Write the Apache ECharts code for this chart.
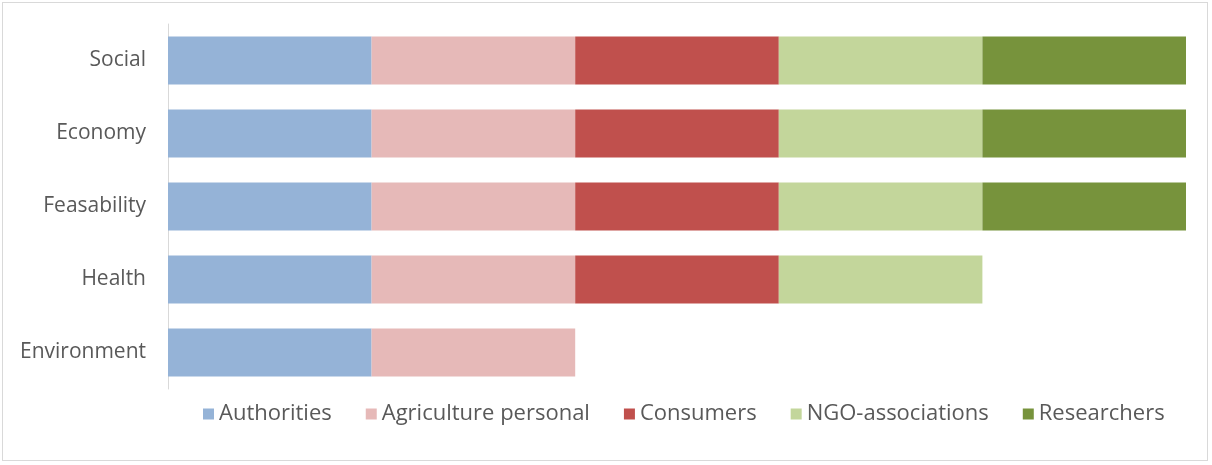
<!DOCTYPE html>
<html>
<head>
<meta charset="utf-8">
<script src="https://cdn.jsdelivr.net/npm/echarts@6/dist/echarts.min.js"></script>
<style>
  html, body { margin: 0; padding: 0; background: #fff; }
  #frame { position: absolute; left: 2px; top: 2px; width: 1206px; height: 459px; border: 1px solid #d9d9d9; box-sizing: border-box; }
  #chart { position: absolute; left: 0; top: 0; width: 1212px; height: 465px; }
</style>
</head>
<body>
<div id="frame"></div>
<div id="chart"></div>
<script>
// Categories listed bottom to top (category axis on y starts at the bottom)
const categories = ['Environment', 'Health', 'Feasability', 'Economy', 'Social'];

// Stakeholder groups and their contribution per category
const authorities = [1, 1, 1, 1, 1];
const agriculturePersonal = [1, 1, 1, 1, 1];
const consumers = [0, 1, 1, 1, 1];
const ngoAssociations = [0, 1, 1, 1, 1];
const researchers = [0, 0, 1, 1, 1];

const seriesNames = ['Authorities', 'Agriculture personal', 'Consumers', 'NGO-associations', 'Researchers'];
const seriesValues = [authorities, agriculturePersonal, consumers, ngoAssociations, researchers];
const seriesColors = ['#95B3D7', '#E6B9B8', '#C0504D', '#C3D69B', '#77933C'];

const FONT = 'Open Sans, Liberation Sans, sans-serif';
const chart = echarts.init(document.getElementById('chart'));

chart.setOption({
  animation: false,
  textStyle: { fontFamily: FONT },
  grid: { left: 168, right: 26, top: 24, height: 365, containLabel: false },
  legend: {
    top: 398,
    left: 198,
    itemWidth: 11,
    itemHeight: 11,
    itemGap: 34,
    icon: 'rect',
    textStyle: { fontSize: 22, color: '#595959', fontFamily: FONT },
    data: seriesNames
  },
  xAxis: {
    type: 'value',
    min: 0,
    max: 5,
    show: false
  },
  yAxis: {
    type: 'category',
    data: categories,
    axisLine: { show: true, lineStyle: { color: '#d9d9d9', width: 1 } },
    axisTick: { show: false },
    axisLabel: { fontSize: 21, color: '#595959', margin: 22 }
  },
  series: seriesNames.map((name, i) => ({
    name: name,
    type: 'bar',
    stack: 'total',
    barWidth: '66%',
    itemStyle: { color: seriesColors[i] },
    data: seriesValues[i].map(v => v === 0 ? null : v)
  }))
});
</script>
</body>
</html>
